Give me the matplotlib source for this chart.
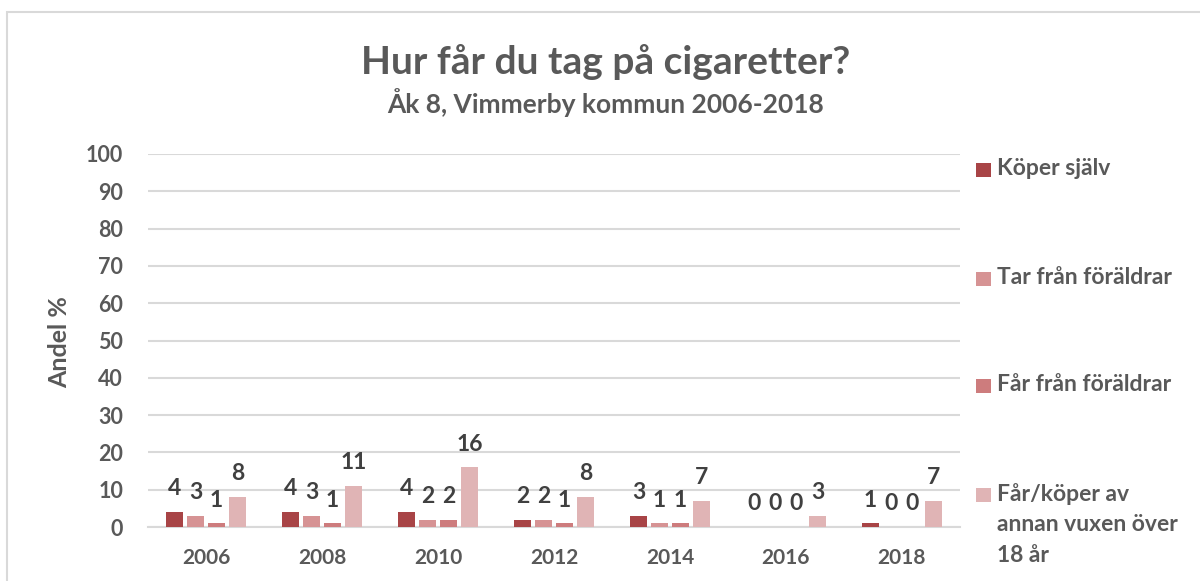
import matplotlib.pyplot as plt
import numpy as np
from matplotlib.patches import Rectangle

plt.rcParams['font.family'] = ['Lato', 'DejaVu Sans']
plt.rcParams['font.weight'] = 'bold'

years = ['2006', '2008', '2010', '2012', '2014', '2016', '2018']
series_names = ['Köper själv', 'Tar från föräldrar', 'Får från föräldrar',
                'Får/köper av\nannan vuxen över\n18 år']
koper_sjalv = [4, 4, 4, 2, 3, 0, 1]
tar_fran = [3, 3, 2, 2, 1, 0, 0]
far_fran = [1, 1, 2, 1, 1, 0, 0]
annan_vuxen = [8, 11, 16, 8, 7, 3, 7]
colors = ['#A84446', '#D69394', '#CD7C7D', '#E0B4B5']

text_col = '#595959'
label_col = '#404040'

fig = plt.figure(figsize=(12, 5.81), dpi=100)
W, H = 1200, 581

# chart border (clipped at right and bottom like the reference)
fig.patches.append(Rectangle((7 / W, -0.1), 1.2, (H - 12) / H + 0.1,
                             transform=fig.transFigure, fill=False,
                             edgecolor='#D9D9D9', linewidth=1.5))

ax = fig.add_axes([148 / W, (H - 527) / H, (960 - 148) / W, (527 - 154) / H])

x = np.arange(len(years))
pitch = 0.181
width = 0.147
all_series = [koper_sjalv, tar_fran, far_fran, annan_vuxen]
for i, (vals, col) in enumerate(zip(all_series, colors)):
    pos = x + (i - 1.5) * pitch
    ax.bar(pos, vals, width=width, color=col, zorder=3)
    for px, v in zip(pos, vals):
        ax.annotate(str(v), (px, v), xytext=(0, 12), textcoords='offset points',
                    ha='center', va='baseline', fontsize=16.5, fontweight='bold',
                    color=label_col)

ax.set_xlim(-0.5, len(years) - 0.5)
ax.set_ylim(0, 100)
ax.set_yticks(np.arange(0, 101, 10))
ax.set_xticks(x)
ax.set_xticklabels(years)
ax.grid(axis='y', color='#D9D9D9', linewidth=1.5, zorder=0)
ax.set_axisbelow(True)
for s in ['top', 'right', 'left']:
    ax.spines[s].set_visible(False)
ax.spines['bottom'].set_color('#D9D9D9')
ax.spines['bottom'].set_linewidth(1.5)
ax.tick_params(axis='both', length=0, colors=text_col)
ax.tick_params(axis='x', pad=15, labelsize=15)
ax.tick_params(axis='y', pad=18, labelsize=15.5)
for lbl in ax.get_xticklabels() + ax.get_yticklabels():
    lbl.set_fontweight('bold')

fig.text(60 / W, 1 - 342 / H, 'Andel %', rotation=90, ha='center', va='center',
         fontsize=18, fontweight='bold', color=text_col)

fig.text(606 / W, 1 - 62 / H, 'Hur får du tag på cigaretter?', ha='center',
         va='center', fontsize=28, fontweight='bold', color=text_col)
fig.text(606 / W, 1 - 103 / H, 'Åk 8, Vimmerby kommun 2006-2018', ha='center',
         va='center', fontsize=19, fontweight='bold', color=text_col)

# legend, spread vertically like the original
leg_y = [170, 279, 386, 495]
for name, col, yy in zip(series_names, colors, leg_y):
    fig.patches.append(Rectangle((976 / W, 1 - (yy + 7) / H), 15 / W, 14 / H,
                                 transform=fig.transFigure, facecolor=col,
                                 edgecolor='none'))
    fig.text(997 / W, 1 - (yy - 12) / H, name, ha='left', va='top',
             fontsize=16.5, fontweight='bold', color=text_col, linespacing=1.55)

fig.savefig('out.png', dpi=100)
